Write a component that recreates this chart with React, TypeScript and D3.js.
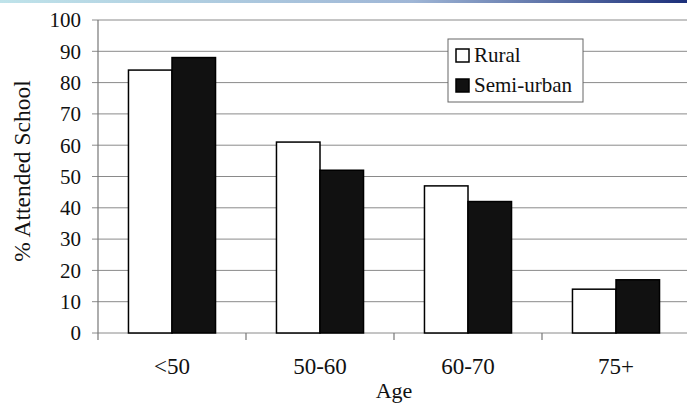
import React, { useRef, useEffect } from "react";
import * as d3 from "d3";

const ageGroups = ["<50", "50-60", "60-70", "75+"];
const seriesNames = ["Rural", "Semi-urban"];
const ruralValues = [84, 61, 47, 14];
const semiUrbanValues = [88, 52, 42, 17];
const yTicks = [0, 10, 20, 30, 40, 50, 60, 70, 80, 90, 100];

const W = 687;
const H = 406;

export default function App() {
  const ref = useRef<SVGSVGElement>(null);

  useEffect(() => {
    if (!ref.current) return;
    const svg = d3.select(ref.current);
    svg.selectAll("*").remove();

    const font = "Liberation Serif, Tinos, Times New Roman, Times, DejaVu Serif, serif";
    const left = 98;
    const right = 690;
    const top = 20;
    const bottom = 333;

    const x = d3.scaleBand<string>().domain(ageGroups).range([left, right]).padding(0);
    const xs = d3
      .scaleBand<string>()
      .domain(seriesNames)
      .range([0, x.bandwidth()])
      .paddingInner(0)
      .paddingOuter(0.7);
    const y = d3.scaleLinear().domain([0, 100]).range([bottom, top]);

    // scan artifact strip at the top
    const defs = svg.append("defs");
    const grad = defs.append("linearGradient").attr("id", "topg").attr("x1", 0).attr("x2", 1);
    grad.append("stop").attr("offset", "0%").attr("stop-color", "#bfe3ea");
    grad.append("stop").attr("offset", "60%").attr("stop-color", "#9fb6d6");
    grad.append("stop").attr("offset", "100%").attr("stop-color", "#1c2f7a");
    svg.append("rect").attr("x", 0).attr("y", 0).attr("width", W).attr("height", 3).attr("fill", "url(#topg)");

    const txt = (sel: d3.Selection<any, any, any, any>, size: number) =>
      sel.style("font-family", font).style("font-size", `${size}px`).attr("fill", "#111");

    // gridlines
    svg
      .append("g")
      .selectAll("line")
      .data(yTicks)
      .join("line")
      .attr("x1", left - 6)
      .attr("x2", W)
      .attr("y1", (d) => y(d))
      .attr("y2", (d) => y(d))
      .attr("stroke", "#8a8a8a")
      .attr("stroke-width", 1);

    // y tick labels
    txt(
      svg
        .append("g")
        .selectAll("text")
        .data(yTicks)
        .join("text")
        .attr("x", left - 17)
        .attr("y", (d) => y(d))
        .attr("dy", "0.35em")
        .attr("text-anchor", "end")
        .text((d) => d),
      21
    );

    // left axis line
    svg
      .append("line")
      .attr("x1", left)
      .attr("x2", left)
      .attr("y1", top)
      .attr("y2", bottom + 7)
      .attr("stroke", "#777")
      .attr("stroke-width", 1.2);

    // bottom axis category ticks
    svg
      .append("g")
      .selectAll("line")
      .data(ageGroups.slice(1))
      .join("line")
      .attr("x1", (d) => x(d)!)
      .attr("x2", (d) => x(d)!)
      .attr("y1", bottom)
      .attr("y2", bottom + 7)
      .attr("stroke", "#777")
      .attr("stroke-width", 1.2);

    // bars
    const data = ageGroups.map((g, i) => ({
      group: g,
      values: [
        { name: seriesNames[0], value: ruralValues[i] },
        { name: seriesNames[1], value: semiUrbanValues[i] },
      ],
    }));

    const groups = svg
      .append("g")
      .selectAll("g")
      .data(data)
      .join("g")
      .attr("transform", (d) => `translate(${x(d.group)},0)`);

    groups
      .selectAll("rect")
      .data((d) => d.values)
      .join("rect")
      .attr("x", (d) => xs(d.name)!)
      .attr("y", (d) => y(d.value))
      .attr("width", xs.bandwidth())
      .attr("height", (d) => y(0) - y(d.value))
      .attr("fill", (d) => (d.name === "Rural" ? "#fff" : "#111"))
      .attr("stroke", "#000")
      .attr("stroke-width", 1.5);

    // category labels
    txt(
      svg
        .append("g")
        .selectAll("text")
        .data(ageGroups)
        .join("text")
        .attr("x", (d) => x(d)! + x.bandwidth() / 2)
        .attr("y", 374)
        .attr("text-anchor", "middle")
        .text((d) => d),
      23
    );

    // axis titles
    txt(
      svg
        .append("text")
        .attr("x", 394)
        .attr("y", 398)
        .attr("text-anchor", "middle")
        .text("Age"),
      22
    );

    txt(
      svg
        .append("text")
        .attr("transform", `translate(30,171) rotate(-90)`)
        .attr("text-anchor", "middle")
        .text("% Attended School"),
      23.5
    );

    // legend
    const lg = svg.append("g").attr("transform", "translate(448,39)");
    lg.append("rect")
      .attr("width", 135)
      .attr("height", 63)
      .attr("fill", "#fff")
      .attr("stroke", "#666")
      .attr("stroke-width", 1);
    const items = lg
      .selectAll("g")
      .data(seriesNames)
      .join("g")
      .attr("transform", (_, i) => `translate(8,${10 + i * 30})`);
    items
      .append("rect")
      .attr("width", 13)
      .attr("height", 13)
      .attr("fill", (d) => (d === "Rural" ? "#fff" : "#111"))
      .attr("stroke", "#000")
      .attr("stroke-width", 1.5);
    txt(
      items
        .append("text")
        .attr("x", 18)
        .attr("y", 13)
        .text((d) => d),
      21
    );
  }, []);

  return (
    <svg
      ref={ref}
      width={W}
      height={H}
      style={{ position: "absolute", left: 0, top: 0, background: "#fff" }}
    />
  );
}
